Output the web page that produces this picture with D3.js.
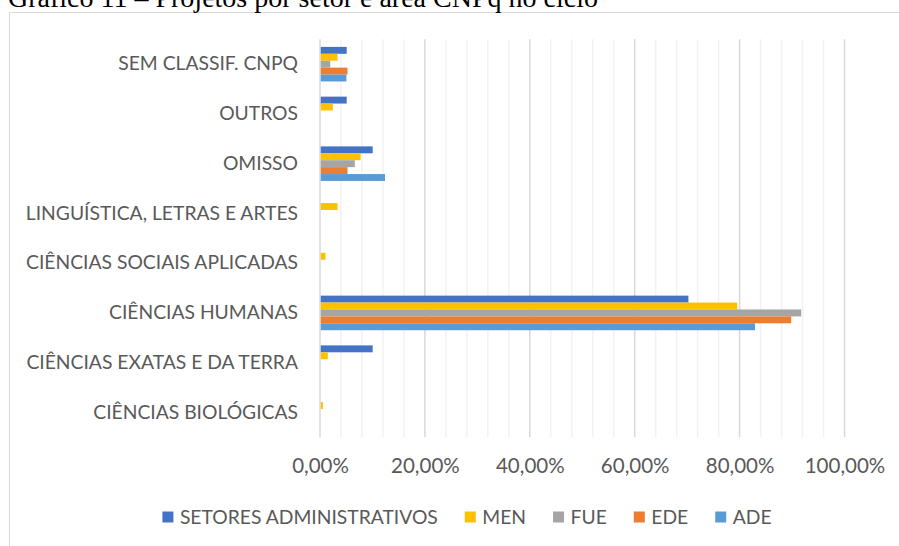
<!DOCTYPE html>
<html>
<head>
<meta charset="utf-8">
<script src="https://cdn.jsdelivr.net/npm/d3@7"></script>
<style>
  body { margin: 0; background: #fff; }
</style>
</head>
<body>
<div id="chart"></div>
<script>
// categories, top to bottom
const categories = [
  "SEM CLASSIF. CNPQ",
  "OUTROS",
  "OMISSO",
  "LINGUÍSTICA, LETRAS E ARTES",
  "CIÊNCIAS SOCIAIS APLICADAS",
  "CIÊNCIAS HUMANAS",
  "CIÊNCIAS EXATAS E DA TERRA",
  "CIÊNCIAS BIOLÓGICAS"
];
const seriesNames = ["SETORES ADMINISTRATIVOS", "MEN", "FUE", "EDE", "ADE"];

// values in %
const setores = [4.95, 4.95, 9.9, 0, 0, 70.1, 9.9, 0];
const men     = [3.2, 2.3, 7.6, 3.2, 0.9, 79.4, 1.35, 0.4];
const fue     = [1.8, 0, 6.5, 0, 0, 91.6, 0, 0];
const ede     = [5.1, 0, 5.1, 0, 0, 89.7, 0, 0];
const ade     = [4.9, 0, 12.25, 0, 0, 82.8, 0, 0];

const xTicks = [0, 20, 40, 60, 80, 100];
const xMinor = d3.range(0, 101, 4);

const colors = ["#4472C4", "#FFC000", "#A5A5A5", "#ED7D31", "#5B9BD5"];
const title = "Gráfico 11 – Projetos por setor e área CNPq no ciclo";

const w = 899, h = 546;
const plot = { left: 320, right: 844.5, top: 39.3, bottom: 437.3 };
const font = "Lato, 'Open Sans', sans-serif";
const txt = "#595959";

const svg = d3.select("#chart").append("svg")
  .attr("width", w)
  .attr("height", h);

// chart frame (right and bottom edges run off the picture)
svg.append("rect")
  .attr("x", 9.5).attr("y", 12.5)
  .attr("width", 960).attr("height", 600)
  .attr("fill", "#fff")
  .attr("stroke", "#d9d9d9");

// title, partly cut off at the top like the source page
svg.append("text")
  .attr("x", 8).attr("y", 7)
  .attr("font-family", "'Liberation Serif', 'Times New Roman', serif")
  .attr("font-size", 28)
  .attr("fill", "#000")
  .text(title);

const x = d3.scaleLinear().domain([0, 100]).range([plot.left, plot.right]);
const y0 = d3.scaleBand().domain(categories)
  .range([plot.top, plot.bottom])
  .paddingInner(0.305).paddingOuter(0.1525);
const y1 = d3.scaleBand().domain(seriesNames).range([0, y0.bandwidth()]);
const clr = d3.scaleOrdinal().domain(seriesNames).range(colors);

// gridlines
svg.append("g").selectAll("line")
  .data(xMinor.filter(d => d % 20 !== 0))
  .enter().append("line")
  .attr("x1", d => x(d)).attr("x2", d => x(d))
  .attr("y1", plot.top).attr("y2", plot.bottom)
  .attr("stroke", "#f2f2f2").attr("stroke-width", 1.5);

svg.append("g").selectAll("line")
  .data(xTicks)
  .enter().append("line")
  .attr("x1", d => x(d)).attr("x2", d => x(d))
  .attr("y1", plot.top).attr("y2", plot.bottom)
  .attr("stroke", "#d9d9d9").attr("stroke-width", 1.5);

// bars
const table = categories.map((c, i) => ({
  cat: c,
  vals: [setores[i], men[i], fue[i], ede[i], ade[i]].map((v, j) => ({ s: seriesNames[j], v }))
}));

const groups = svg.selectAll(".group")
  .data(table)
  .enter().append("g")
  .attr("transform", d => `translate(0,${y0(d.cat)})`);

groups.selectAll("rect")
  .data(d => d.vals.filter(e => e.v > 0))
  .enter().append("rect")
  .attr("x", x(0) + 0.75)
  .attr("y", d => y1(d.s))
  .attr("width", d => x(d.v) - x(0))
  .attr("height", y1.bandwidth())
  .attr("fill", d => clr(d.s));

// category labels
const yAxis = svg.append("g")
  .attr("transform", `translate(${plot.left - 22},0)`)
  .call(d3.axisLeft(y0).tickSize(0).tickPadding(0));
yAxis.select(".domain").remove();
yAxis.selectAll("text")
  .attr("font-family", font)
  .attr("font-size", 19.3)
  .attr("fill", txt);

// value labels
const xAxis = svg.append("g")
  .attr("transform", `translate(0,${plot.bottom})`)
  .call(d3.axisBottom(x).tickValues(xTicks).tickSize(0).tickPadding(21)
    .tickFormat(d => d.toFixed(2).replace(".", ",") + "%"));
xAxis.select(".domain").remove();
xAxis.selectAll("text")
  .attr("font-family", font)
  .attr("font-size", 20.5)
  .attr("fill", txt);

// legend
const legend = svg.append("g");
let lx = 0;
seriesNames.forEach((s, i) => {
  const item = legend.append("g").attr("transform", `translate(${lx},0)`);
  item.append("rect")
    .attr("x", 0).attr("y", -5.5)
    .attr("width", 11).attr("height", 11)
    .attr("fill", colors[i]);
  const t = item.append("text")
    .attr("x", 17.5).attr("y", 0)
    .attr("dy", "0.35em")
    .attr("font-family", font)
    .attr("font-size", 19.3)
    .attr("fill", txt)
    .text(s);
  lx += 17.5 + t.node().getComputedTextLength() + 27;
});
const legW = lx - 27;
legend.attr("transform", `translate(${467 - legW / 2},517)`);
</script>
</body>
</html>
